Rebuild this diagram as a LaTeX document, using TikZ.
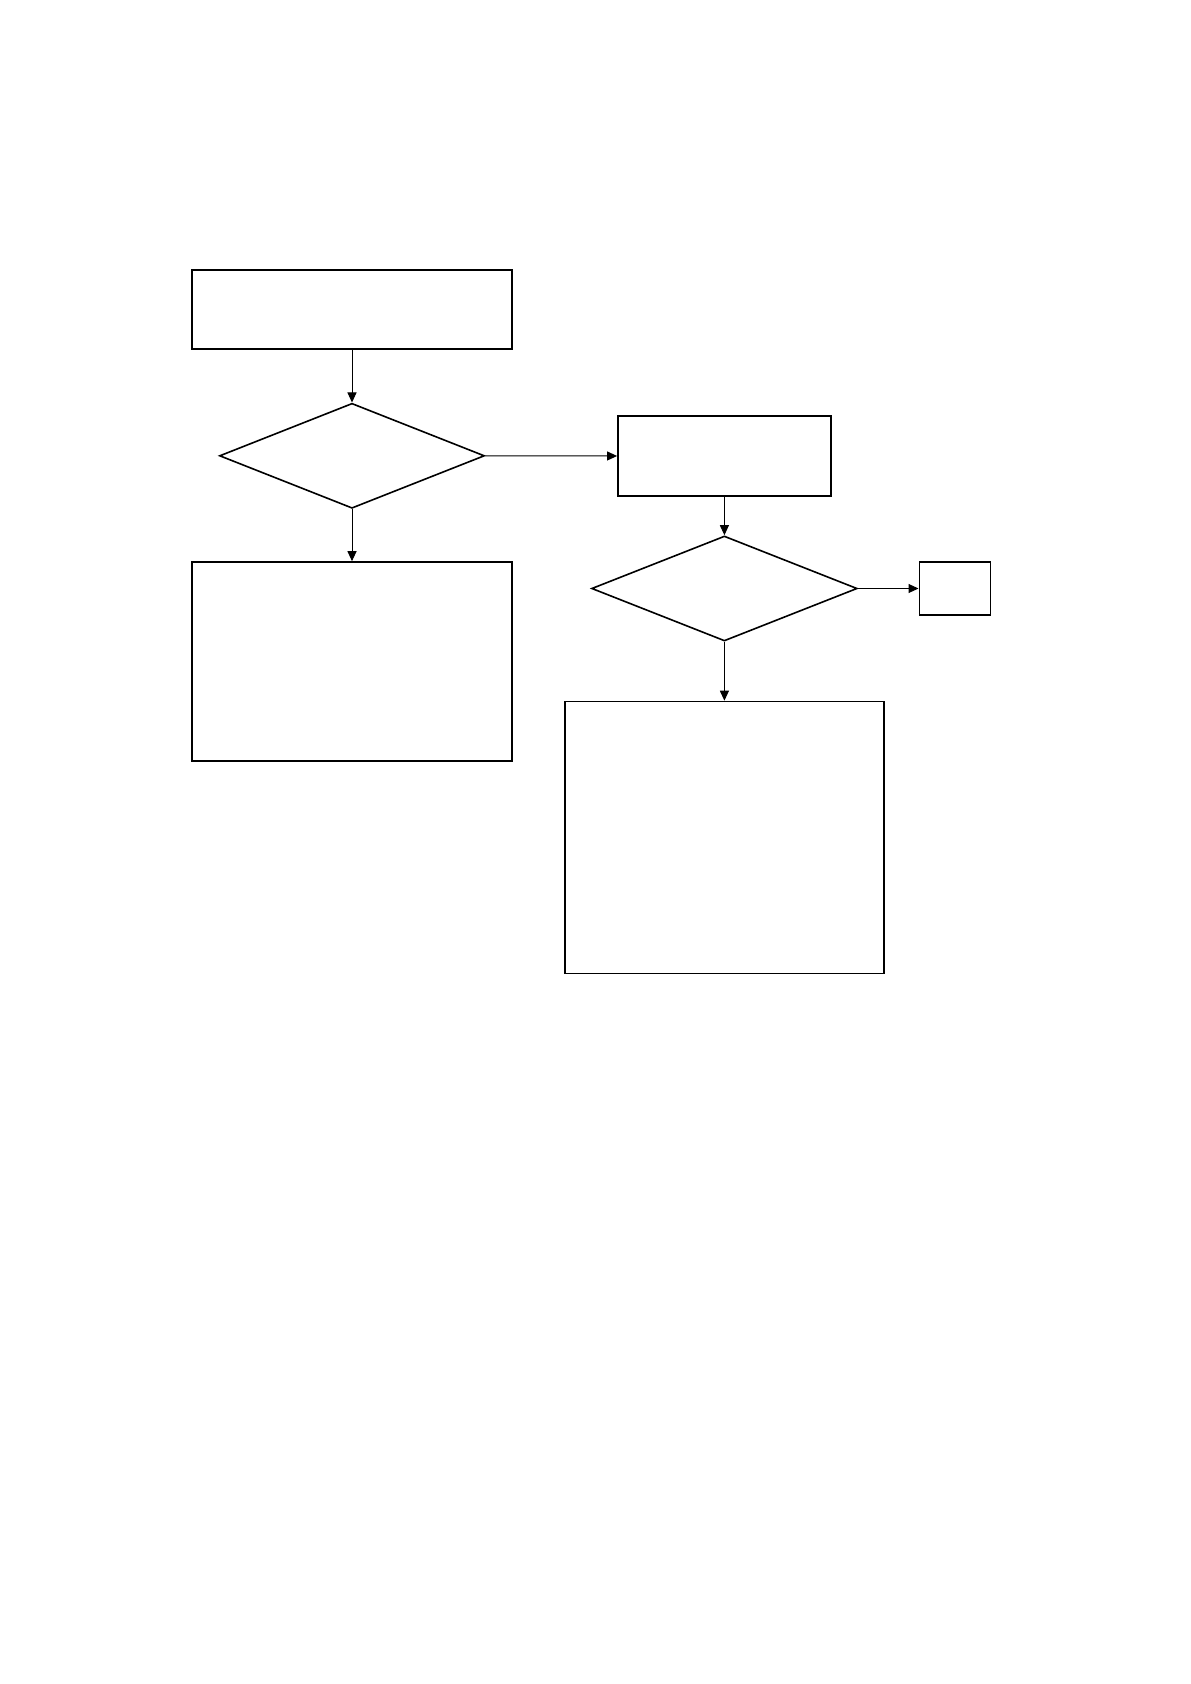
\documentclass[tikz,border=0pt]{standalone}
\usetikzlibrary{shapes.geometric,arrows.meta}
\begin{document}
\begin{tikzpicture}[x=0.5pt,y=-0.5pt,
  boxnode/.style={draw,rectangle,line width=0.8pt,inner sep=0pt},
  decnode/.style={draw,diamond,line width=0.8pt,inner sep=0pt},
  flow/.style={line width=0.5pt,-{Triangle[length=5pt,width=4.5pt]}}]
\useasboundingbox (0,0) rectangle (1190,1684);
\node[boxnode,minimum width=160pt,minimum height=39.5pt] (b1) at (352,309.5) {};
\node[decnode,minimum width=132.5pt,minimum height=52.5pt] (d1) at (352,455.8) {};
\node[boxnode,minimum width=160pt,minimum height=99.5pt] (b3) at (352,661.5) {};
\node[boxnode,minimum width=106.5pt,minimum height=40pt] (b2) at (724.4,456) {};
\node[decnode,minimum width=132.8pt,minimum height=52.5pt] (d2) at (724.4,588.5) {};
\node[boxnode,minimum width=35.5pt,minimum height=26.3pt] (b5) at (954.8,588.5) {};
\node[boxnode,minimum width=159.5pt,minimum height=136pt] (b4) at (724.4,837.5) {};
\draw[flow] (b1.south) -- (d1.north);
\draw[flow] (d1.east) -- (b2.west);
\draw[flow] (d1.south) -- (b3.north);
\draw[flow] (b2.south) -- (d2.north);
\draw[flow] (d2.east) -- (b5.west);
\draw[flow] (d2.south) -- (b4.north);
\end{tikzpicture}
\end{document}
